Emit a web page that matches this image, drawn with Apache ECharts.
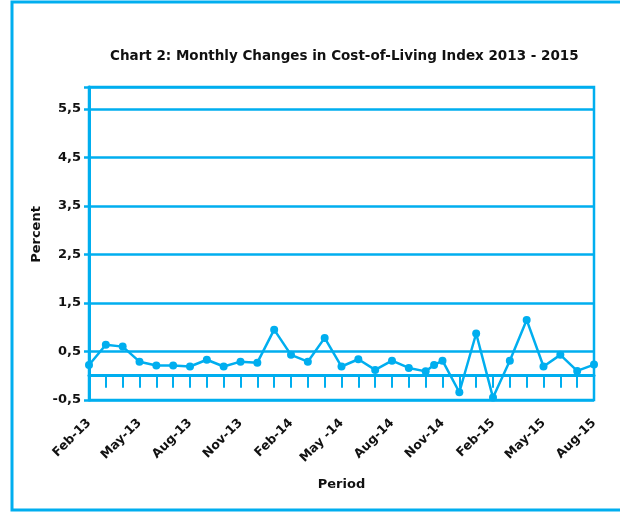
<!DOCTYPE html>
<html>
<head>
<meta charset="utf-8">
<script src="https://cdn.jsdelivr.net/npm/echarts@6/dist/echarts.min.js"></script>
<style>
html,body{margin:0;padding:0;background:#fff;}
#chart{width:620px;height:512px;}
</style>
</head>
<body>
<div id="chart"></div>
<script>
// Months Feb-13 .. Aug-15
const months = ["Feb-13","Mar-13","Apr-13","May-13","Jun-13","Jul-13","Aug-13","Sep-13","Oct-13","Nov-13","Dec-13","Jan-14",
  "Feb-14","Mar-14","Apr-14","May -14","Jun-14","Jul-14","Aug-14","Sep-14","Oct-14","Nov-14","Dec-14","Jan-15",
  "Feb-15","Mar-15","Apr-15","May-15","Jun-15","Jul-15","Aug-15"];
const values = [0.22,0.64,0.60,0.29,0.21,0.21,0.19,0.33,0.19,0.29,0.27,0.95,
  0.43,0.29,0.78,0.19,0.34,0.12,0.31,0.16,0.09,0.31,-0.34,0.87,
  -0.45,0.31,1.15,0.19,0.43,0.10,0.23];
// an additional plotted point that sits between Oct-14 and Nov-14 in the original
const extraPointPosition = 20.5;
const extraPointValue = 0.22;
const tickLabels = ["Feb-13","May-13","Aug-13","Nov-13","Feb-14","May -14","Aug-14","Nov-14","Feb-15","May-15","Aug-15"];
const yTickValues = [-0.5,0.5,1.5,2.5,3.5,4.5,5.5];

const BLUE = '#00AEEF';
const FONT = 'DejaVu Sans';

const seriesData = [];
values.forEach((v, i) => {
  seriesData.push([i, v]);
  if (i === Math.floor(extraPointPosition)) seriesData.push([extraPointPosition, extraPointValue]);
});

const chart = echarts.init(document.getElementById('chart'), null, {renderer: 'canvas'});
chart.setOption({
  animation: false,
  backgroundColor: '#fff',
  title: {
    text: 'Chart 2: Monthly Changes in Cost-of-Living Index 2013 - 2015',
    left: 105, top: 44,
    textStyle: {fontFamily: FONT, fontWeight: 'bold', fontSize: 13.5, color: '#111'}
  },
  graphic: [{
    type: 'rect', silent: true,
    shape: {x: 12, y: 2, width: 640, height: 508},
    style: {fill: 'none', stroke: BLUE, lineWidth: 3}
  }],
  grid: {
    left: 89, right: 26, top: 87, bottom: 112,
    outerBoundsMode: 'none', containLabel: false,
    show: true, borderColor: BLUE, borderWidth: 2.5, backgroundColor: 'transparent'
  },
  xAxis: {
    type: 'value', min: 0, max: months.length - 1, interval: 3,
    name: 'Period', nameLocation: 'middle', nameGap: 78, nameMoveOverlap: false,
    nameTextStyle: {fontFamily: FONT, fontWeight: 'bold', fontSize: 13, color: '#111'},
    axisLine: {onZero: true, lineStyle: {color: BLUE, width: 3}},
    axisTick: {show: true, length: 12, lineStyle: {color: BLUE, width: 2}},
    minorTick: {show: true, splitNumber: 3, length: 12, lineStyle: {color: BLUE, width: 2}},
    splitLine: {show: false},
    axisLabel: {
      rotate: 45, margin: 21, fontFamily: FONT, fontWeight: 'bold', fontSize: 12.5, color: '#111',
      formatter: v => tickLabels[Math.round(v / 3)] || ''
    }
  },
  yAxis: {
    type: 'value', min: -0.5, max: 5.95, interval: 1,
    name: 'Percent', nameLocation: 'middle', nameGap: 46, nameMoveOverlap: false,
    nameTextStyle: {fontFamily: FONT, fontWeight: 'bold', fontSize: 13, color: '#111', padding: [0, 0, 0, 18]},
    axisLine: {show: true, lineStyle: {color: BLUE, width: 3}},
    axisTick: {show: true, length: 5, lineStyle: {color: BLUE, width: 2.5}},
    splitLine: {show: true, lineStyle: {color: BLUE, width: 2.5}},
    axisLabel: {
      margin: 8, fontFamily: FONT, fontWeight: 'bold', fontSize: 13, color: '#111',
      formatter: v => yTickValues.some(t => Math.abs(t - v) < 1e-6) ? v.toFixed(1).replace('.', ',') : ''
    }
  },
  series: [{
    type: 'line',
    data: seriesData,
    symbol: 'circle', symbolSize: 8,
    lineStyle: {color: BLUE, width: 2.5},
    itemStyle: {color: BLUE}
  }]
});
</script>
</body>
</html>
